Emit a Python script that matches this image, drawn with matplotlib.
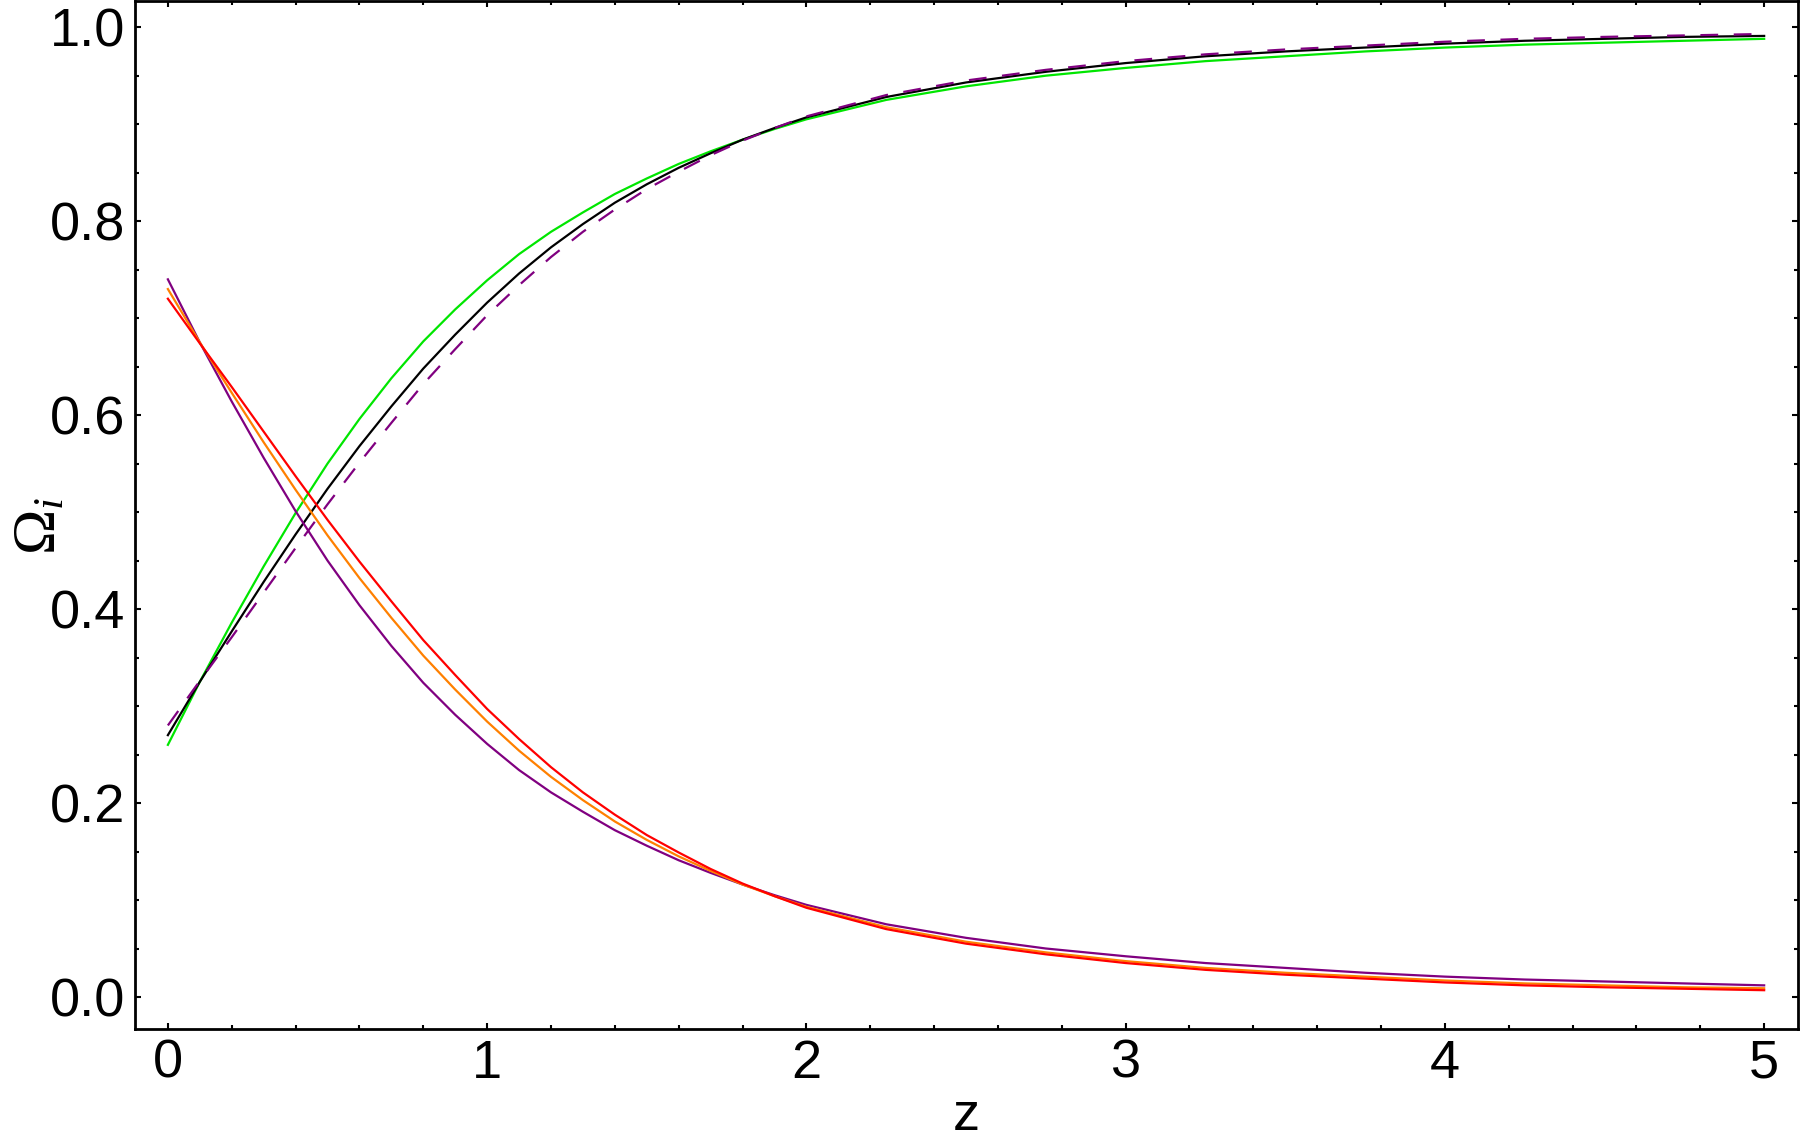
import matplotlib
matplotlib.use("Agg")
import matplotlib.pyplot as plt
from matplotlib.ticker import MultipleLocator, FormatStrFormatter

# redshift grid and density parameters
z = [0.0, 0.1, 0.2, 0.3, 0.4, 0.5, 0.6, 0.7, 0.8, 0.9, 1.0,
     1.1, 1.2, 1.3, 1.4, 1.5, 1.6, 1.7, 1.8, 1.9, 2.0,
     2.25, 2.5, 2.75, 3.0, 3.25, 3.5, 3.75, 4.0, 4.25, 4.5, 4.75, 5.0]

om_green = [0.260, 0.325, 0.386, 0.444, 0.499, 0.550, 0.596, 0.638, 0.676, 0.709, 0.739,
            0.766, 0.789, 0.809, 0.828, 0.844, 0.859, 0.872, 0.884, 0.895, 0.905,
            0.925, 0.939, 0.950, 0.958, 0.965, 0.970, 0.975, 0.979, 0.982, 0.984, 0.986, 0.988]
om_black = [0.270, 0.325, 0.377, 0.428, 0.477, 0.524, 0.568, 0.609, 0.648, 0.683, 0.716,
            0.746, 0.773, 0.797, 0.819, 0.838, 0.855, 0.870, 0.884, 0.896, 0.907,
            0.928, 0.943, 0.954, 0.963, 0.970, 0.975, 0.979, 0.983, 0.986, 0.988, 0.990, 0.991]
om_dashed = [0.280, 0.326, 0.371, 0.417, 0.463, 0.508, 0.551, 0.592, 0.632, 0.668, 0.703,
             0.734, 0.763, 0.789, 0.812, 0.833, 0.851, 0.868, 0.883, 0.896, 0.908,
             0.930, 0.945, 0.956, 0.965, 0.972, 0.977, 0.981, 0.985, 0.988, 0.990, 0.9915, 0.993]

ode_purple = [0.740, 0.675, 0.614, 0.556, 0.501, 0.450, 0.404, 0.362, 0.324, 0.291, 0.261,
              0.234, 0.211, 0.191, 0.172, 0.156, 0.141, 0.128, 0.116, 0.105, 0.095,
              0.075, 0.061, 0.050, 0.042, 0.035, 0.030, 0.025, 0.021, 0.018, 0.016, 0.014, 0.012]
ode_orange = [0.730, 0.675, 0.623, 0.572, 0.523, 0.476, 0.432, 0.391, 0.352, 0.317, 0.284,
              0.254, 0.227, 0.203, 0.181, 0.162, 0.145, 0.130, 0.116, 0.104, 0.093,
              0.072, 0.057, 0.046, 0.037, 0.030, 0.025, 0.021, 0.017, 0.014, 0.012, 0.010, 0.009]
ode_red = [0.720, 0.674, 0.629, 0.583, 0.537, 0.492, 0.449, 0.408, 0.368, 0.332, 0.297,
           0.266, 0.237, 0.211, 0.188, 0.167, 0.149, 0.132, 0.117, 0.104, 0.092,
           0.070, 0.055, 0.044, 0.035, 0.028, 0.023, 0.019, 0.015, 0.012, 0.010, 0.0085, 0.007]

plt.rcParams['font.family'] = ['Liberation Sans', 'DejaVu Sans']
plt.rcParams['mathtext.fontset'] = 'custom'
plt.rcParams['mathtext.rm'] = 'Liberation Serif'
plt.rcParams['mathtext.it'] = 'Liberation Serif:italic'

fig = plt.figure(figsize=(18, 11.45), dpi=100)
ax = fig.add_axes([135 / 1800, 1 - 1029 / 1145, 1663 / 1800, 1028 / 1145])

lw = 1.6
ax.plot(z, om_green, color='#00e600', lw=lw)
ax.plot(z, om_black, color='black', lw=lw)
ax.plot(z, om_dashed, color='#800080', lw=lw, dashes=(8, 7))
ax.plot(z, ode_purple, color='#800080', lw=lw)
ax.plot(z, ode_orange, color='#ff8000', lw=lw)
ax.plot(z, ode_red, color='#ff0000', lw=lw)

ax.set_xlim(-0.103, 5.106)
ax.set_ylim(-0.033, 1.027)

ax.xaxis.set_major_locator(MultipleLocator(1))
ax.xaxis.set_minor_locator(MultipleLocator(0.2))
ax.yaxis.set_major_locator(MultipleLocator(0.2))
ax.yaxis.set_minor_locator(MultipleLocator(0.05))
ax.yaxis.set_major_formatter(FormatStrFormatter('%.1f'))

ax.tick_params(which='both', direction='in', top=True, right=True, width=1.5,
               labelsize=39, pad=7)
ax.tick_params(which='major', length=4.5)
ax.tick_params(which='minor', length=3)
for side in ax.spines.values():
    side.set_linewidth(2.0)

ax.set_xlabel('z', fontsize=39, labelpad=2)
ax.set_ylabel(r'$\Omega_i$', fontsize=44)
ax.yaxis.set_label_coords(-0.040, 0.49)

fig.savefig('out.png', dpi=100)
